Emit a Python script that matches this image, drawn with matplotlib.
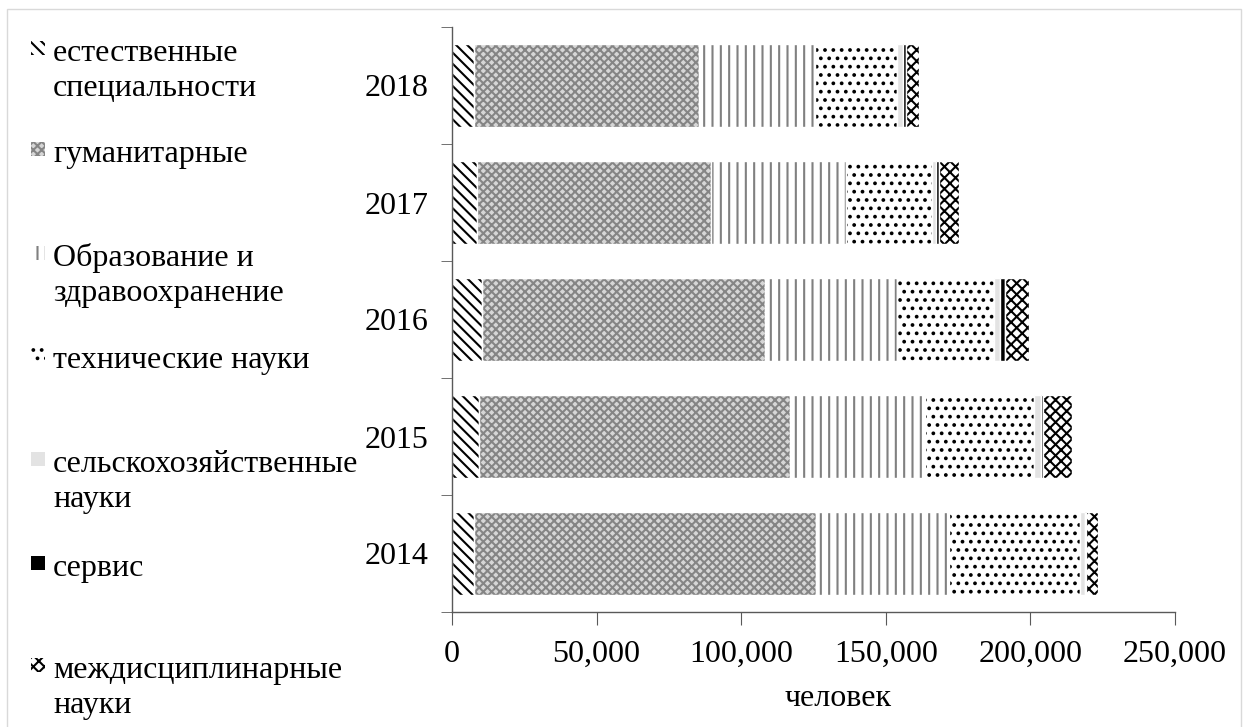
import numpy as np
import matplotlib
matplotlib.use('Agg')
import matplotlib.pyplot as plt
from matplotlib.patches import Rectangle
from matplotlib.ticker import FuncFormatter

plt.rcParams['font.family'] = ['Liberation Serif', 'DejaVu Serif']
plt.rcParams['hatch.linewidth'] = 1.5

# Число студентов по направлениям подготовки, человек
years = ['2014', '2015', '2016', '2017', '2018']
natural = [7600, 9400, 10500, 8600, 7600]
humanities = [118100, 107500, 97900, 81000, 77800]
education = [46100, 46700, 45500, 46600, 40100]
technical = [45200, 37700, 33500, 29700, 28400]
agriculture = [1800, 2300, 2100, 1400, 1900]
service = [500, 900, 1800, 1100, 1300]
interdisc = [4000, 9900, 8100, 6900, 4400]

labels = ['естественные\nспециальности', 'гуманитарные', 'Образование и\nздравоохранение',
          'технические науки', 'сельскохозяйственные\nнауки', 'сервис',
          'междисциплинарные\nнауки']
series = [natural, humanities, education, technical, agriculture, service, interdisc]

# (facecolor, hatch colour, hatch)
styles = [('white', 'black', '\\\\\\'),
          ('#d6d6d6', '#858585', 'xxxx'),
          ('white', '#808080', '||'),
          ('white', 'black', '..'),
          ('#e3e3e3', '#e3e3e3', None),
          ('black', 'black', None),
          ('white', 'black', 'xxx')]

W, H = 1247, 727
fig = plt.figure(figsize=(W / 100, H / 100), dpi=100)
ax = fig.add_axes([452 / W, 1 - 612 / H, 723 / W, 585 / H])

y = np.arange(len(years))
left = np.zeros(len(years))
for vals, (fc, hc, hatch) in zip(series, styles):
    vals = np.array(vals, dtype=float)
    ax.barh(y, vals, left=left, height=0.71, color=fc, edgecolor=hc,
            hatch=hatch, linewidth=0)
    ax.barh(y, vals, left=left, height=0.71, fill=False, edgecolor='white',
            linewidth=1)
    left += vals

ax.set_xlim(0, 250000)
ax.set_ylim(-0.5, len(years) - 0.5)
ax.set_xticks(np.arange(0, 250001, 50000))
ax.xaxis.set_major_formatter(FuncFormatter(lambda v, p: '{:,.0f}'.format(v)))
ax.set_yticks(y)
ax.set_yticklabels(years)
ax.set_yticks(np.arange(-0.5, len(years), 1.0), minor=True)

axis_col = '#595959'
for s in ['top', 'right']:
    ax.spines[s].set_visible(False)
for s in ['left', 'bottom']:
    ax.spines[s].set_color(axis_col)
    ax.spines[s].set_linewidth(1.0)
ax.tick_params(axis='y', which='major', length=0, pad=17, labelsize=23)
ax.tick_params(axis='y', which='minor', length=8, color=axis_col, direction='out')
ax.tick_params(axis='x', which='major', length=9, color=axis_col, direction='out',
               pad=11, labelsize=23)

ax.set_xlabel('человек', fontsize=23)
ax.xaxis.label.set_va('center')
ax.xaxis.set_label_coords(0.534, -0.148)

# legend on the left, drawn by hand to keep Excel-like layout
marker_y = [48, 149, 253, 355, 459, 563, 665]
for lab, (fc, hc, hatch), my in zip(labels, styles, marker_y):
    fig.patches.append(Rectangle((31 / W, 1 - (my + 7) / H), 14 / W, 14 / H,
                                 transform=fig.transFigure, facecolor=fc,
                                 edgecolor=hc, hatch=hatch, linewidth=0))
    for i, line in enumerate(lab.split('\n')):
        fig.text(53 / W, 1 - (my + 13 + 35 * i) / H, line, fontsize=23,
                 va='baseline', ha='left')

# light frame round the chart area
fig.patches.append(Rectangle((7 / W, -0.01), 1234 / W, 1.01 - 9 / H,
                             transform=fig.transFigure, fill=False,
                             edgecolor='#d9d9d9', linewidth=1))

fig.savefig('out.png', dpi=100)
